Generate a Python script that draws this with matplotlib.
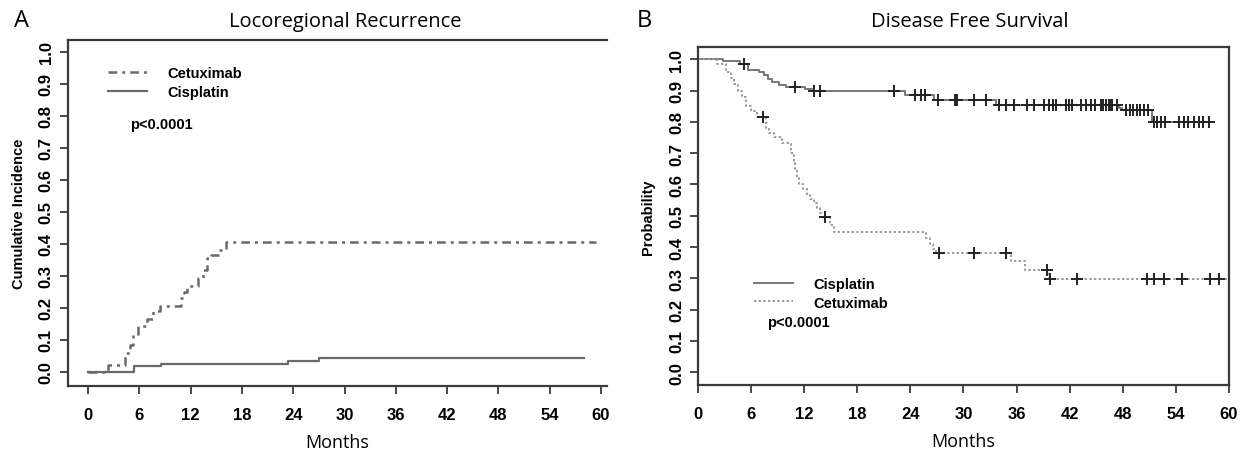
"""
Locoregional recurrence and disease free survival, cetuximab vs cisplatin
"""

import numpy as np
import matplotlib
matplotlib.use('Agg')
import matplotlib.pyplot as plt

# ---- panel A: cumulative incidence of locoregional recurrence ----
lr_cetux_t = [0, 2.3, 4.3, 4.9, 5.3, 5.8, 6.9, 7.6, 8.4, 10.9, 11.2, 11.6,
              12.9, 13.4, 13.9, 14.4, 15.3, 16.1]
lr_cetux_v = [0, 0.022, 0.06, 0.083, 0.12, 0.143, 0.165, 0.19, 0.205, 0.23,
              0.25, 0.27, 0.295, 0.32, 0.355, 0.365, 0.38, 0.405]
lr_cetux_end = 59.4

lr_cis_t = [0, 5.4, 8.5, 23.4, 27.0]
lr_cis_v = [0, 0.017, 0.025, 0.034, 0.043]
lr_cis_end = 58.0

# ---- panel B: disease free survival (Kaplan-Meier) ----
dfs_cis_t = [0, 2.8, 4.7, 5.6, 6.9, 7.5, 7.9, 8.4, 9.2, 9.9, 12.1, 12.9,
             23.4, 26.7, 33.7, 47.6, 47.9, 51.3]
dfs_cis_v = [1.0, 0.994, 0.986, 0.965, 0.96, 0.949, 0.938, 0.927, 0.917,
             0.911, 0.906, 0.899, 0.887, 0.871, 0.853, 0.845, 0.837, 0.798]
dfs_cis_end = 57.9
dfs_cis_cens = [5.2, 11.0, 13.1, 13.8, 22.2, 24.5, 25.2, 25.6, 27.1, 29.0,
                29.3, 31.2, 32.6, 34.0, 34.8, 35.7, 37.2, 38.0, 39.1, 39.7,
                40.1, 40.4, 41.6, 41.9, 42.3, 43.3, 43.8, 44.4, 44.9, 45.5,
                45.8, 46.1, 46.4, 46.6, 46.8, 47.3, 48.4, 48.8, 49.2, 49.6,
                50.0, 50.4, 50.8, 51.5, 51.9, 52.3, 52.8, 54.3, 54.9, 55.4,
                56.0, 56.6, 57.1, 57.7]

dfs_cet_t = [0, 2.1, 3.2, 3.7, 4.1, 4.5, 5.0, 5.4, 6.0, 6.7, 7.7, 8.0, 8.6,
             9.5, 10.5, 10.9, 11.0, 11.2, 11.4, 11.9, 12.3, 12.7, 13.1, 13.5,
             13.8, 14.3, 14.9, 15.4, 25.8, 26.2, 26.6, 26.9, 35.4, 36.9, 39.7]
dfs_cet_v = [1.0, 0.985, 0.96, 0.94, 0.92, 0.90, 0.88, 0.85, 0.835, 0.817,
             0.778, 0.763, 0.752, 0.731, 0.70, 0.67, 0.65, 0.62, 0.60, 0.585,
             0.567, 0.555, 0.54, 0.525, 0.51, 0.495, 0.47, 0.449, 0.43, 0.41,
             0.395, 0.38, 0.354, 0.326, 0.299]
dfs_cet_end = 60.0
dfs_cet_cens = [7.3, 14.4, 27.2, 31.2, 34.8, 39.4, 39.8, 42.8, 50.7, 51.5,
                52.6, 54.7, 57.8, 58.9]

month_ticks = np.arange(0, 61, 6)
prob_ticks = np.round(np.arange(0, 1.01, 0.1), 1)

tick_font = dict(family='Liberation Sans', weight='bold', size=12)
label_font = dict(family='Liberation Sans', weight='bold', size=10.5)
legend_prop = dict(family='Liberation Sans', weight='bold', size=10.5)
title_font = dict(family='Open Sans', size=14.5)
months_font = dict(family='Open Sans', size=13)
spine_col = '#3a3a3a'


def step_line(ax, t, v, t_end, **kw):
    x = list(t) + [t_end]
    y = list(v) + [v[-1]]
    ax.step(x, y, where='post', **kw)


def surv_at(t, v, x):
    idx = np.searchsorted(t, x, side='right') - 1
    return np.asarray(v)[idx]


def style_axes(ax):
    ax.set_xticks(month_ticks)
    ax.set_xticklabels([str(m) for m in month_ticks], fontdict=tick_font)
    ax.set_yticks(prob_ticks)
    ax.set_yticklabels([f'{p:.1f}' for p in prob_ticks], fontdict=tick_font,
                       rotation=90, va='center')
    ax.tick_params(direction='out', length=6, width=1.3, color=spine_col)
    ax.tick_params(axis='x', pad=9)
    ax.tick_params(axis='y', pad=4)
    for s in ax.spines.values():
        s.set_color(spine_col)
        s.set_linewidth(1.6)


fig = plt.figure(figsize=(12.56, 4.56), dpi=100)

# panel A
axA = fig.add_axes([0.0538, 0.1513, 0.4295, 0.7588])
step_line(axA, lr_cetux_t, lr_cetux_v, lr_cetux_end, color='#6a6a6a',
          lw=1.8, dashes=[3.5, 2, 1.2, 2], label='Cetuximab')
step_line(axA, lr_cis_t, lr_cis_v, lr_cis_end, color='#6a6a6a', lw=1.6,
          label='Cisplatin')
axA.set_xlim(-2.39, 60.7)
axA.set_ylim(-0.044, 1.0375)
style_axes(axA)
axA.spines['right'].set_visible(False)
axA.set_xlabel('Months', fontdict=months_font, labelpad=8)
axA.set_ylabel('Cumulative Incidence', fontdict=label_font, labelpad=9)
axA.legend(loc='upper left', bbox_to_anchor=(0.05, 0.962),
           frameon=False, prop=legend_prop,
           handlelength=2.7, handletextpad=1.4, labelspacing=0.35)
axA.text(0.115, 0.745, 'p<0.0001', transform=axA.transAxes,
         fontdict=label_font)
fig.text(0.275, 0.952, 'Locoregional Recurrence', fontdict=title_font,
         ha='center', va='center')
fig.text(0.011, 0.955, 'A', fontdict=dict(family='Open Sans', size=17),
         va='center')

# panel B
axB = fig.add_axes([0.5557, 0.1535, 0.4228, 0.7412])
step_line(axB, dfs_cis_t, dfs_cis_v, dfs_cis_end, color='#777777', lw=1.4,
          label='Cisplatin')
step_line(axB, dfs_cet_t, dfs_cet_v, dfs_cet_end, color='#9a9a9a', lw=1.4,
          ls=(0, (1.2, 1.2)), label='Cetuximab')
axB.plot(dfs_cis_cens, surv_at(dfs_cis_t, dfs_cis_v, dfs_cis_cens), '+',
         color='#222222', ms=8, mew=1.4)
axB.plot(dfs_cet_cens, surv_at(dfs_cet_t, dfs_cet_v, dfs_cet_cens), '+',
         color='#222222', ms=8, mew=1.4)
axB.set_xlim(0, 60)
axB.set_ylim(-0.0406, 1.039)
style_axes(axB)
axB.set_xlabel('Months', fontdict=months_font, labelpad=8)
axB.set_ylabel('Probability', fontdict=label_font, labelpad=10)
handles, labels = axB.get_legend_handles_labels()
axB.legend(handles[:2], labels[:2], loc='upper left',
           bbox_to_anchor=(0.08, 0.358), frameon=False, prop=legend_prop,
           handlelength=2.7, handletextpad=1.4, labelspacing=0.3)
axB.text(0.13, 0.175, 'p<0.0001', transform=axB.transAxes,
         fontdict=label_font)
fig.text(0.772, 0.952, 'Disease Free Survival', fontdict=title_font,
         ha='center', va='center')
fig.text(0.507, 0.955, 'B', fontdict=dict(family='Open Sans', size=17),
         va='center')

plt.savefig('out.png', dpi=100)
